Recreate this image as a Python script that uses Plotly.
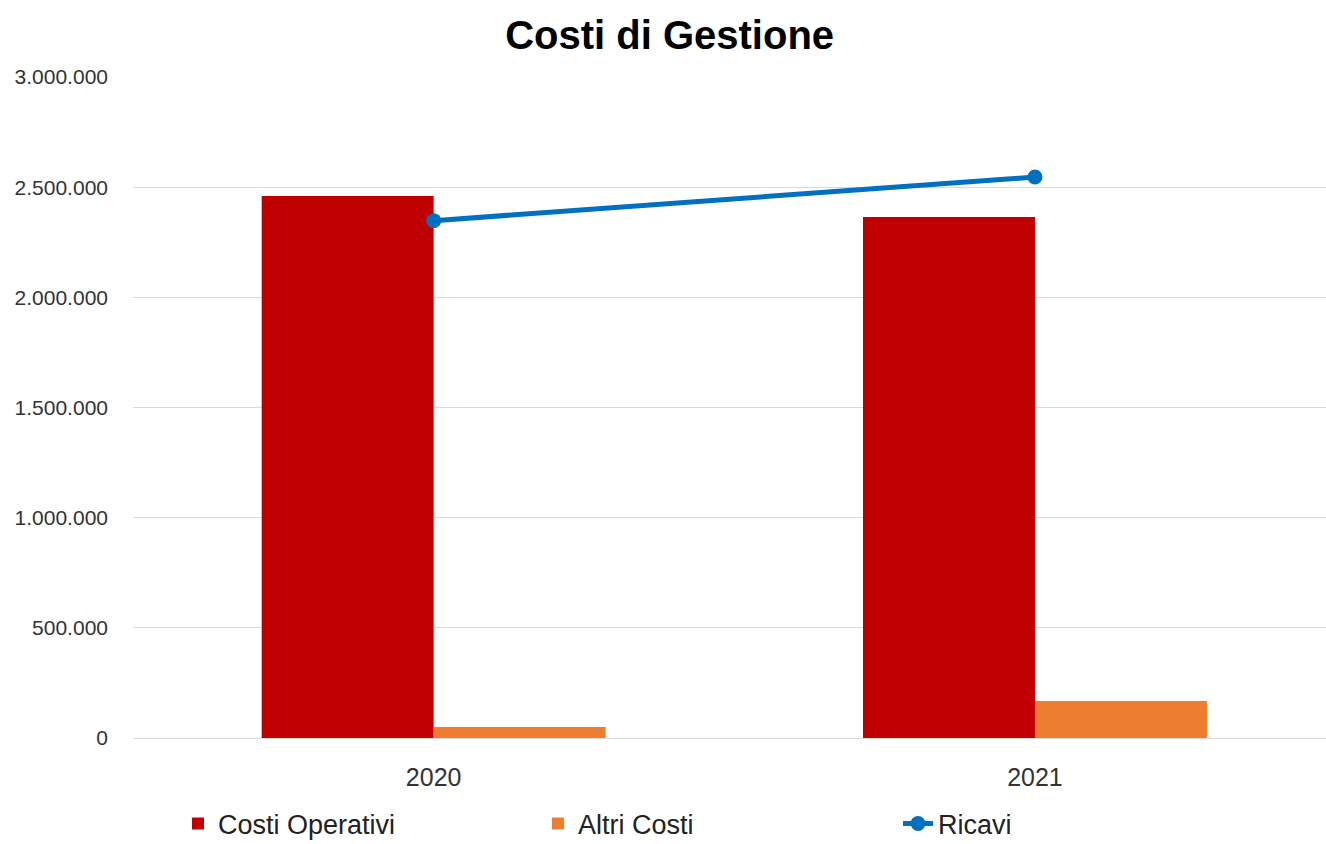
import plotly.graph_objects as go

years = ["2020", "2021"]
costi_operativi = [2460000, 2365000]
altri_costi = [50000, 168000]
ricavi = [2348000, 2546000]
y_ticks = [0, 500000, 1000000, 1500000, 2000000, 2500000, 3000000]

FONT = "Arial, Liberation Sans, sans-serif"

fig = go.Figure()
fig.add_trace(go.Bar(name="Costi Operativi", x=years, y=costi_operativi,
                     marker=dict(color="#C00000", line=dict(width=0))))
fig.add_trace(go.Bar(name="Altri Costi", x=years, y=altri_costi,
                     marker=dict(color="#ED7D31", line=dict(width=0))))
fig.add_trace(go.Scatter(name="Ricavi", x=years, y=ricavi, mode="lines+markers",
                         line=dict(color="#0070C0", width=5),
                         marker=dict(color="#0070C0", size=15)))

fig.update_layout(
    width=1326, height=844,
    margin=dict(l=133, r=0, t=77, b=106),
    paper_bgcolor="white", plot_bgcolor="white",
    separators=",.",
    barmode="group", bargap=0.428, bargroupgap=0,
    title=dict(text="<b>Costi di Gestione</b>", x=0.505, xref="container",
               xanchor="center", y=1 - 35 / 844, yref="container", yanchor="middle",
               font=dict(family=FONT, size=40, color="#000000")),
    font=dict(family=FONT, color="#333333"),
    showlegend=True,
    legend=dict(orientation="h", x=178 / 1326, xref="container", xanchor="left",
                y=20 / 844, yref="container", yanchor="middle",
                entrywidth=315, entrywidthmode="pixels",
                font=dict(family=FONT, size=27, color="#222222"),
                bgcolor="rgba(0,0,0,0)", traceorder="normal"),
)
fig.update_xaxes(type="category", range=[-0.5, 1.484], showgrid=False,
                 showline=False, zeroline=False, ticks="",
                 ticklabelstandoff=22,
                 tickfont=dict(family=FONT, size=25, color="#333333"))
fig.update_yaxes(range=[0, 3000000], tickvals=y_ticks, tickformat=",d",
                 showgrid=True, gridcolor="#D9D9D9", gridwidth=1,
                 zeroline=True, zerolinecolor="#D9D9D9", zerolinewidth=1,
                 showline=False, ticks="", ticklabelstandoff=24,
                 tickfont=dict(family=FONT, size=21, color="#333333"))

fig.write_html("out.html")
